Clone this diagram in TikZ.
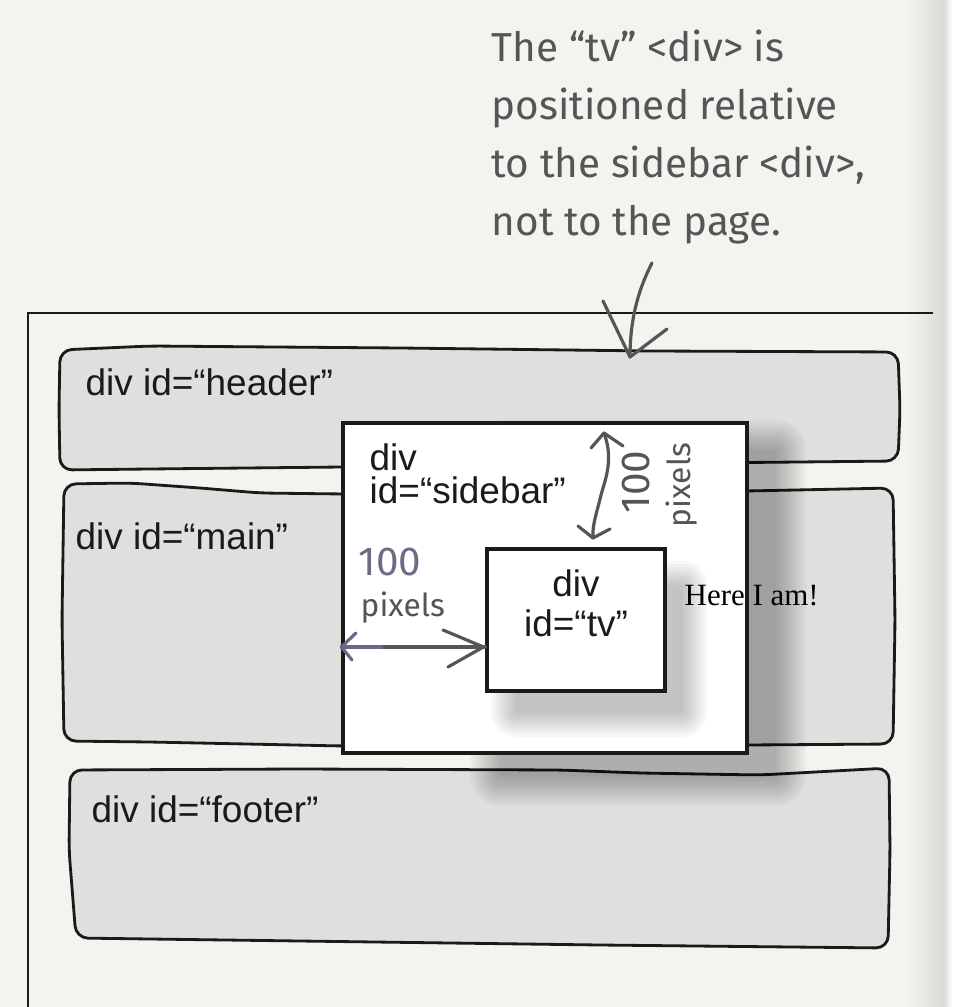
\documentclass[tikz,border=0pt]{standalone}
\usepackage{fontspec}
\setmainfont{Liberation Sans}
\newfontfamily\handfont{Fira Sans}
\newfontfamily\seriffont{Liberation Serif}
\usetikzlibrary{calc,fit}
\definecolor{bgc}{HTML}{F4F3F0}
\definecolor{boxfill}{HTML}{DFDFDE}
\definecolor{ink}{HTML}{1A1A1A}
\definecolor{pencil}{HTML}{555555}
\definecolor{purp}{HTML}{6E6488}
\definecolor{band}{HTML}{DCDAD7}
\tikzset{
  divbox/.style={draw=ink, line width=0.8pt, fill=boxfill, line join=round, rounded corners=0.12cm},
  plainbox/.style={draw=ink, line width=0.9pt, fill=white, inner sep=0pt},
  boxlabel/.style={font=\fontsize{10.5}{9.4}\selectfont, text=ink, inner sep=0pt, align=left},
  handlabel/.style={font=\handfont\fontsize{11.5}{16.5}\selectfont, text=pencil, inner sep=0pt, align=left},
  pencilline/.style={draw=pencil, line width=0.9pt, line cap=round, line join=round},
  purpline/.style={draw=purp, line width=0.9pt, line cap=round, line join=round},
  shadowstep/.style={fill=black, opacity=0.028},
}
\begin{document}
\begin{tikzpicture}[x=0.01cm, y=-0.01cm]
\useasboundingbox (0,0) rectangle (958,1007);
% paper
\fill[bgc] (0,0) rectangle (958,1007);
\shade[left color=bgc, right color=band] (905,0) rectangle (944,1007);
\shade[left color=band, right color=white] (944,0) rectangle (952,1007);
\fill[white] (952,0) rectangle (958,1007);
% page frame
\draw[ink, line width=0.7pt] (933,313) -- (28,313) -- (28,1007);

% header
\draw[divbox] (59,410) -- (60,350) -- (150,346) -- (400,348) -- (650,351) -- (898,352)
  -- (900,410) -- (898,461) -- (600,464) -- (343,467) -- (150,469) -- (60,470) -- cycle;
% main
\draw[divbox] (62,620) -- (64,484) -- (130,483) -- (200,488) -- (260,493) -- (343,494)
  -- (747,491) -- (893,488) -- (895,620) -- (893,744) -- (747,745) -- (500,746)
  -- (343,746) -- (150,742) -- (64,741) -- cycle;
% footer
\draw[divbox] (69,850) -- (70,770) -- (300,769) -- (560,770) -- (640,773) -- (760,775)
  -- (889,768) -- (890,850) -- (888,948) -- (600,945) -- (300,941) -- (76,938) -- cycle;

% sidebar shadow
\foreach \r in {0,3,...,30}{
  \fill[shadowstep, rounded corners=\r*0.01cm] (500-\r,450-\r) rectangle (776+\r,776+\r);
}
\node[plainbox, fit={(343,423) (747,753)}] (sb) {};
% tv shadow
\foreach \r in {0,3,...,24}{
  \fill[shadowstep, rounded corners=\r*0.01cm] (515-\r,585-\r) rectangle (683+\r,713+\r);
}
\node[plainbox, fit={(487,549) (665,691)}] (tv) {};

% labels
\node[boxlabel, anchor=base west] (lheader) at (85,396) {div id=“header”};
\node[boxlabel, anchor=base west] (lmain) at (75,550) {div id=“main”};
\node[boxlabel, anchor=base west] (lfooter) at (91,822) {div id=“footer”};
\node[boxlabel, anchor=north west] (lsb) at (369,443) {div\\id=“sidebar”};
\node[boxlabel, align=center] (ltv) at ($(tv.center)+(0,-17)$) {div\\[2pt]id=“tv”};
\node[font=\seriffont\fontsize{8.8}{10}\selectfont, inner sep=0pt, anchor=base west] (here) at (684,605) {Here I am!};

% annotation
\node[handlabel, anchor=north west] (note) at (491,29) {The “tv” <div> is\\positioned relative\\to the sidebar <div>,\\not to the page.};
\coordinate (a0) at (652,263);
\coordinate (a1) at (630,357);
\draw[pencilline] (a0) .. controls (638,290) and (630,320) .. (a1);
\draw[pencilline] (603,301) -- (a1) -- (667,329);

% vertical 100 pixels
\coordinate (v0) at (604,433);
\coordinate (v1) at (593,538);
\draw[pencilline] (v0) .. controls (614,460) and (605,480) .. (601,495) .. controls (597,512) and (592,525) .. (v1);
\draw[pencilline] (591,448) -- (v0) -- (623,446);
\draw[pencilline] (578,526) -- (v1) -- (610,529);
\node[handlabel, rotate=90] (v100) at (636,482) {100};
\node[handlabel, rotate=90, font=\handfont\fontsize{9}{10}\selectfont] (vpix) at (682,485) {pixels};

% horizontal 100 pixels
\coordinate (h0) at (sb.west |- 0,647);
\coordinate (h1) at (tv.west |- 0,647);
\draw[pencilline] (h0) -- (h1);
\draw[purpline] (h0) -- ++(40,0);
\draw[purpline] (356,633) -- (h0) -- (352,660);
\draw[pencilline] (443,630) -- ($(h1)+(-2,0)$) -- (448,667);
\node[handlabel, text=purp!80!gray, anchor=base west] (h100) at (358,576) {100};
\node[handlabel, font=\handfont\fontsize{9}{10}\selectfont, anchor=base west] (hpix) at (360,616) {pixels};
\end{tikzpicture}
\end{document}
